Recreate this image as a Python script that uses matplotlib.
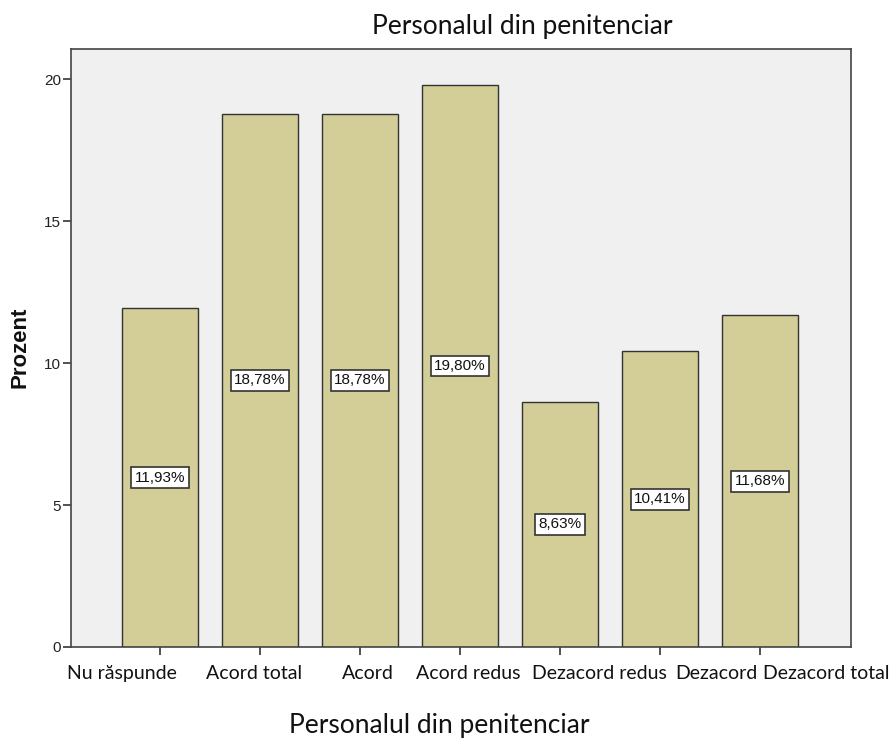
import matplotlib
matplotlib.use("Agg")
import matplotlib.pyplot as plt
import matplotlib.transforms as mtransforms

categories = ["Nu răspunde", "Acord total", "Acord", "Acord redus",
              "Dezacord redus", "Dezacord", "Dezacord total"]
values = [11.93, 18.78, 18.78, 19.80, 8.63, 10.41, 11.68]
value_labels = ["11,93%", "18,78%", "18,78%", "19,80%", "8,63%", "10,41%", "11,68%"]
yticks = [0, 5, 10, 15, 20]

W, H = 892, 745
fig = plt.figure(figsize=(W / 100, H / 100), dpi=100)
ax = fig.add_axes([71 / W, 1 - 647 / H, (851 - 71) / W, (647 - 49) / H])
ax.set_facecolor("#F0F0F0")

x = list(range(len(categories)))
ax.bar(x, values, width=0.76, color="#D3CE98", edgecolor="#333333", linewidth=1.0, zorder=2)

for xi, v, lab in zip(x, values, value_labels):
    ax.text(xi, v / 2, lab, ha="center", va="center", fontsize=11,
            family="Liberation Sans", color="#111111", zorder=3,
            bbox=dict(boxstyle="square,pad=0.22", facecolor="white",
                      edgecolor="#333333", linewidth=1.2))

ax.set_xlim(-0.89, 6.91)
ax.set_ylim(0, 21.06)
ax.set_yticks(yticks)
ax.set_yticklabels([str(t) for t in yticks], family="Liberation Sans", fontsize=11, color="#222222")
ax.set_xticks(x)
ax.set_xticklabels(categories, family="Lato", fontsize=14, color="#111111")
ax.tick_params(axis="both", direction="out", length=6, width=1.2, color="#333333")
ax.tick_params(axis="x", pad=7)
ax.tick_params(axis="y", pad=1)

offsets_px = [-38, -6, 8, 8, 39, 56, 66]
for lbl, dx in zip(ax.get_xticklabels(), offsets_px):
    lbl.set_transform(lbl.get_transform() + mtransforms.ScaledTranslation(dx / 100, 0, fig.dpi_scale_trans))

for s in ax.spines.values():
    s.set_color("#444444")
    s.set_linewidth(1.2)

fig.text(20 / W, 1 - 347 / H, "Prozent", rotation=90, ha="center", va="center",
         family="Liberation Sans", fontsize=16, fontweight="bold", color="#111111")
fig.text(522 / W, 1 - 34 / H, "Personalul din penitenciar", ha="center", va="baseline",
         family="Lato", fontsize=19, color="#111111")
fig.text(439 / W, 1 - 733 / H, "Personalul din penitenciar", ha="center", va="baseline",
         family="Lato", fontsize=19, color="#111111")

fig.savefig("out.png", dpi=100)
